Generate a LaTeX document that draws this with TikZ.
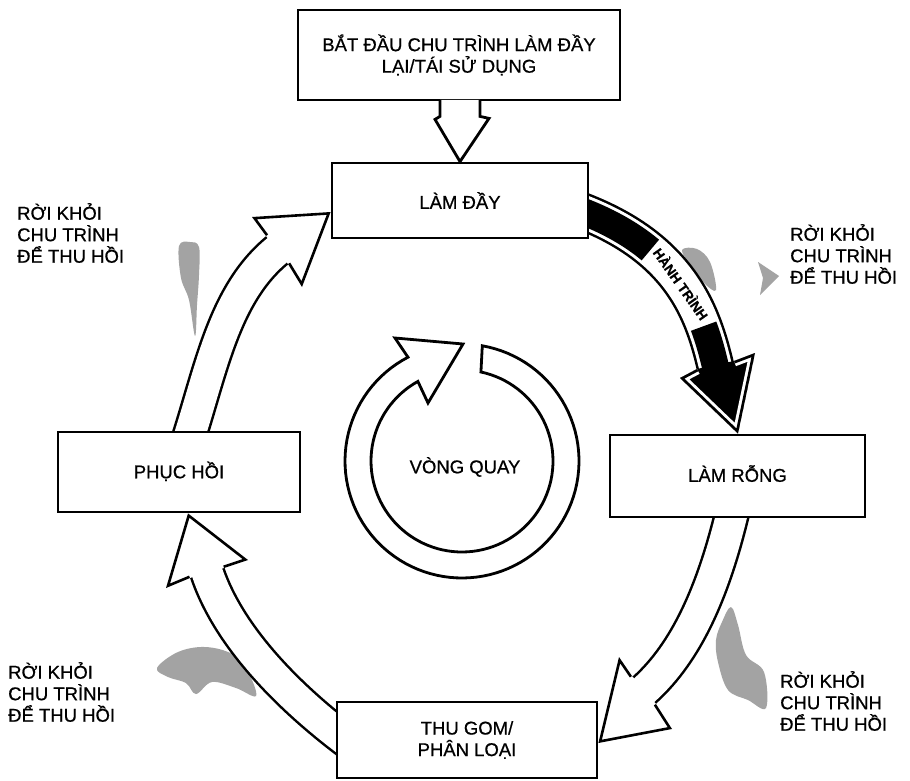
\documentclass[tikz,border=0pt]{standalone}
\usepackage{fontspec}
\setmainfont{Liberation Sans}[RawFeature={embolden=0.7}]
\newcommand{\mainfs}{\fontsize{18.5}{21.5}\selectfont}
\pgfdeclarelayer{bg}
\pgfsetlayers{bg,main}
\newcommand{\whitehead}[5]{%
  \begin{scope}
    \clip #1 -- #2 -- #3 -- #4 -- #5 -- cycle;
    \fill[white] #1 -- #2 -- #3 -- #4 -- #5 -- cycle;
    \draw[line width=5.2pt] #1 -- #2 -- #3 -- #4 -- #5;
  \end{scope}}
\newcommand{\blackhead}[5]{%
  \begin{scope}
    \clip #1 -- #2 -- #3 -- #4 -- #5 -- cycle;
    \fill[black] #1 -- #2 -- #3 -- #4 -- #5 -- cycle;
    \draw[white,line width=11pt] #1 -- #2 -- #3 -- #4 -- #5;
    \draw[line width=5.2pt] #1 -- #2 -- #3 -- #4 -- #5;
  \end{scope}}
\begin{document}
\begin{tikzpicture}[x=1pt,y=-1pt,
  box/.style={draw,line width=2.8pt,fill=white,inner sep=0pt,align=center,font=\mainfs},
  lbl/.style={anchor=west,align=left,inner sep=0pt,font=\mainfs},
  hollow/.style={line width=2.5pt,double=white,double distance=31pt},
  smudge/.style={fill=black!36}]
\useasboundingbox (0,0) rectangle (910,781);

% ---------- boxes ----------
\node[box,minimum width=322pt,minimum height=90pt] (start) at (459,55) {BẮT ĐẦU CHU TRÌNH LÀM ĐẦY\\LẠI/TÁI SỬ DỤNG};
\node[box,minimum width=256pt,minimum height=75pt] (lamday) at (460,200.5) {\raisebox{-4pt}{LÀM ĐẦY}};
\node[box,minimum width=255pt,minimum height=82pt] (lamrong) at (737.5,476) {\raisebox{5pt}{LÀM RỖNG}};
\node[box,minimum width=242pt,minimum height=80pt] (phuchoi) at (179,472) {\raisebox{4pt}{PHỤC HỒI}};
\node[box,minimum width=260pt,minimum height=76pt] (thugom) at (467,740) {THU GOM/\\PHÂN LOẠI};

% ---------- start arrow ----------
\draw[line width=2.8pt,fill=white,line join=miter]
  ([xshift=-19pt,yshift=1.4pt]start.south) -- ([xshift=-19pt,yshift=-15pt]start.south)
  -- ([xshift=-24pt,yshift=-18pt]start.south) -- (lamday.north)
  -- ([xshift=30pt,yshift=-17pt]start.south) -- ([xshift=21pt,yshift=-15pt]start.south)
  -- ([xshift=21pt,yshift=1.4pt]start.south);

% ---------- labels ----------
\node[lbl] (tl) at (17,233) {RỜI KHỎI\\CHU TRÌNH\\ĐỂ THU HỒI};
\node[lbl] (tr) at (790,254) {RỜI KHỎI\\CHU TRÌNH\\ĐỂ THU HỒI};
\node[lbl] (bl) at (8,692) {RỜI KHỎI\\CHU TRÌNH\\ĐỂ THU HỒI};
\node[lbl] (br) at (780,701) {RỜI KHỎI\\CHU TRÌNH\\ĐỂ THU HỒI};
\node[font=\mainfs,inner sep=0pt] (vong) at (465,467) {VÒNG QUAY};

% ---------- coordinates ----------
\coordinate (a1s) at ([xshift=9pt,yshift=-10pt]phuchoi.north);
\coordinate (a1t) at ([yshift=-11.5pt]lamday.west);
\coordinate (a2s) at ([xshift=-4.5pt,yshift=9pt]lamrong.south);
\coordinate (a2t) at ([yshift=-3pt]thugom.east);
\coordinate (a3s) at ([xshift=18pt,yshift=-6pt]thugom.west);
\coordinate (a3t) at ([xshift=9pt]phuchoi.south);
\coordinate (a4s) at ([xshift=-13pt,yshift=-8.5pt]lamday.east);
\coordinate (a4t) at ([xshift=0.5pt]lamrong.north);

\begin{pgfonlayer}{bg}
\fill[white] (0,0) rectangle (910,781);
% ---------- faint "leaving" marks ----------
\fill[smudge] plot[smooth cycle,tension=0.6] coordinates {(179,246) (190,242) (199,247) (199,275) (197,305) (195,336) (189,300) (181,278)};
\fill[smudge] plot[smooth cycle,tension=0.6] coordinates {(682,250) (697,249) (710,262) (716,290) (704,283) (691,266)};
\fill[smudge] (758,262) -- (779,276) -- (760,295) -- (763,278) -- cycle;
\fill[smudge] plot[smooth cycle,tension=0.6] coordinates {(731,607) (738,625) (746,655) (764,672) (766,708) (748,700) (728,690) (718,662) (716,640) (722,622)};
\fill[smudge] plot[smooth cycle,tension=0.6] coordinates {(157,668) (178,652) (205,647) (232,654) (248,672) (256,696) (236,688) (212,682) (196,694) (186,683) (168,677)};

% ---------- arrow 1: PHUC HOI -> LAM DAY ----------
\draw[hollow] (a1s) .. controls (212,366) and (225,291) .. (280,248);
\whitehead{(288,264)}{(302,287)}{(a1t)}{(252,217)}{(266,236)}

% ---------- arrow 2: LAM RONG -> THU GOM ----------
\draw[hollow] (a2s) .. controls (712,598) and (683,657) .. (641,693);
\whitehead{(632,676)}{(619,657)}{(a2t)}{(672,729)}{(656,704)}

% ---------- arrow 3: THU GOM -> PHUC HOI ----------
\draw[hollow] (a3s) .. controls (290,699) and (227,636) .. (206,569);
\whitehead{(224,568)}{(248,560)}{(a3t)}{(166,588)}{(190,578)}

% ---------- arrow 4: LAM DAY -> LAM RONG (black) ----------
\draw[line width=2.5pt,double=white,double distance=33pt] (a4s) .. controls (680,247) and (703,312) .. (716,369);
\draw[line width=27pt,dash pattern=on 85pt off 94pt on 300pt] (a4s) .. controls (680,247) and (703,312) .. (716,369);
\blackhead{(697,369)}{(680,378)}{(a4t)}{(755,353)}{(734,361)}
\path (a4s) .. controls (680,247) and (703,312) .. (716,369)
  node[pos=0.51,sloped,inner sep=0pt,font=\bfseries\fontsize{13.5}{14}\selectfont] (hanh) {HÀNH TRÌNH};

% ---------- central cycle arrow ----------
\draw[line width=2.8pt,fill=white,line join=miter]
  plot[domain=-80:242.5,samples=100] ({462+117*cos(\x)},{461+117*sin(\x)})
  -- (395,338) -- (463,344) -- (428,403)
  -- plot[domain=241:-78,samples=100] ({462+91*cos(\x)},{461+91*sin(\x)}) -- cycle;
\end{pgfonlayer}
\end{tikzpicture}
\end{document}
